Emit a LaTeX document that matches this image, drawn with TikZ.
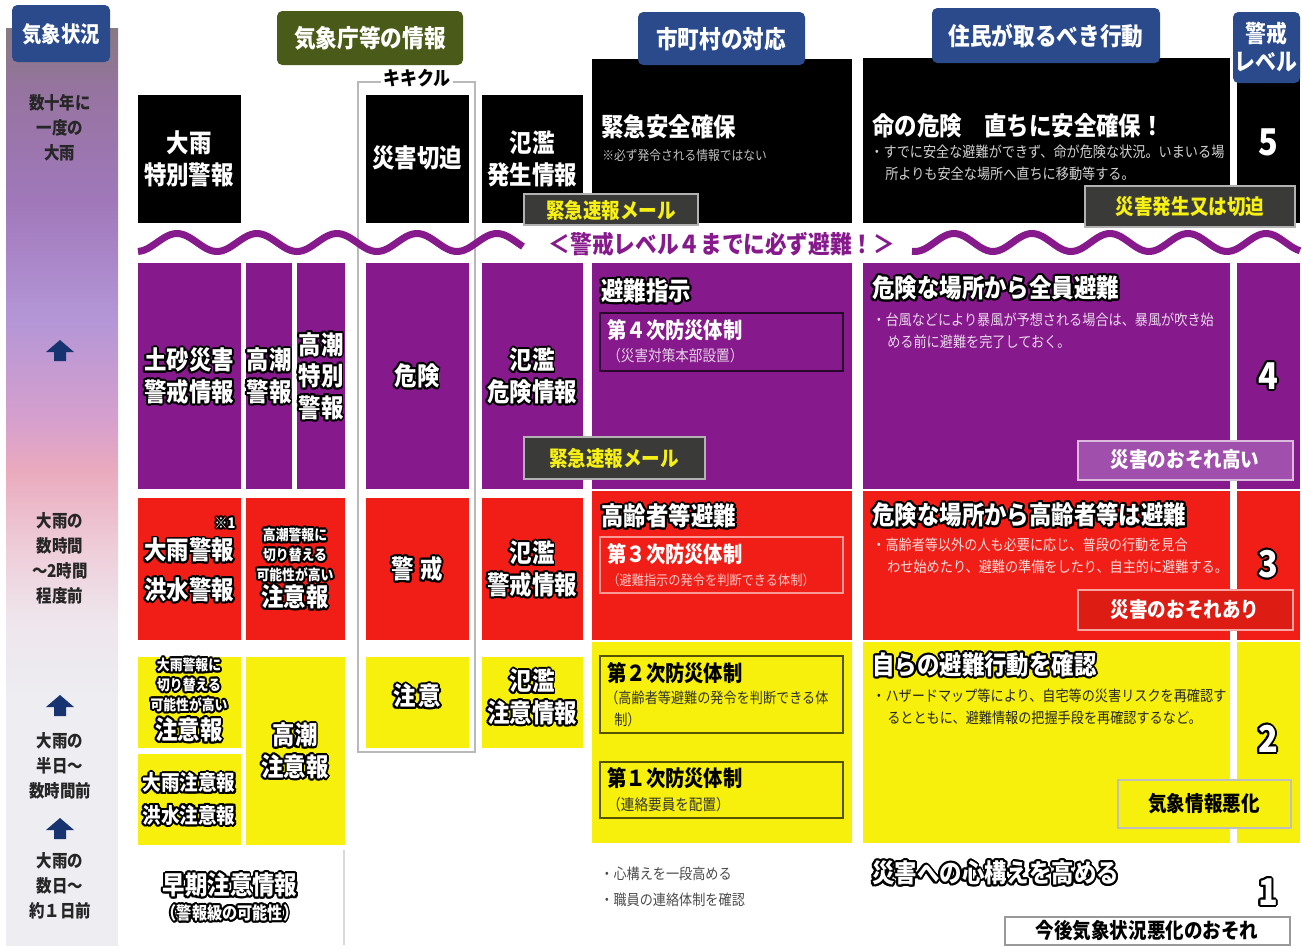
\documentclass[tikz,border=0pt]{standalone}
\usepackage{fontspec}
\setmainfont{Noto Sans CJK JP}[FakeStretch=0.88]
\usepackage{contour}
\contourlength{1.1pt}
\contournumber{16}
\definecolor{hdblue}{RGB}{42,74,140}
\definecolor{hdolive}{RGB}{74,90,24}
\definecolor{lvpurple}{RGB}{134,26,140}
\definecolor{lvpurplelt}{RGB}{160,80,172}
\definecolor{lvred}{RGB}{240,30,22}
\definecolor{lvyellow}{RGB}{246,240,12}
\definecolor{mailgray}{RGB}{58,58,56}
\definecolor{mailyellow}{RGB}{246,240,20}
\definecolor{navyarrow}{RGB}{24,52,112}
\definecolor{framegray}{RGB}{185,185,185}
\definecolor{ctop}{RGB}{135,122,130}
\definecolor{ca}{RGB}{150,116,160}
\definecolor{cb}{RGB}{160,120,186}
\definecolor{cc}{RGB}{180,150,214}
\definecolor{cd}{RGB}{214,160,205}
\definecolor{ce}{RGB}{234,170,190}
\definecolor{cf}{RGB}{238,202,214}
\definecolor{cg}{RGB}{238,230,236}
\definecolor{cbot}{RGB}{237,237,242}
\pgfdeclareverticalshading{climate}{100bp}{color(0bp)=(cbot); color(25bp)=(cbot); color(38.4bp)=(cbot);
  color(42.7bp)=(cg); color(47.1bp)=(cf); color(50.9bp)=(ce); color(53.6bp)=(cd); color(59.1bp)=(cc);
  color(65.6bp)=(cb); color(71.6bp)=(ca); color(75bp)=(ctop); color(100bp)=(ctop)}
\newcommand{\wk}[1]{\contour{black}{#1}}

\begin{document}
\begin{tikzpicture}[x=0.02cm, y=-0.02cm,
    hdtext/.style={text=white, font=\bfseries\fontsize{14}{17}\selectfont, align=center, inner sep=0pt},
    lefttxt/.style={text=black!85, font=\bfseries\fontsize{10}{14.2}\selectfont, align=center, inner sep=0pt},
    lbl/.style={text=white, font=\bfseries\fontsize{14.5}{18}\selectfont, align=center, inner sep=0pt},
    small/.style={text=white, font=\bfseries\fontsize{8.3}{11.3}\selectfont, align=center, inner sep=0pt},
    mid/.style={text=white, font=\bfseries\fontsize{12}{18.5}\selectfont, align=center, inner sep=0pt},
    sub/.style={text=white, font=\bfseries\fontsize{12.5}{14}\selectfont, inner sep=0pt, anchor=west},
    note/.style={font=\fontsize{8.8}{10.5}\selectfont, inner sep=0pt, anchor=west},
    bullet/.style={font=\fontsize{8.5}{12.5}\selectfont, align=left, inner sep=0pt},
    lvnum/.style={text=white, font=\bfseries\fontsize{21}{21}\selectfont, inner sep=0pt},
    mailbox/.style={fill=mailgray, draw=gray!60, line width=0.6pt},
    mailtxt/.style={text=mailyellow, font=\bfseries\fontsize{12}{14}\selectfont, inner sep=0pt},
    risktxt/.style={text=white, font=\bfseries\fontsize{12}{14}\selectfont, inner sep=0pt},
    wave/.style={lvpurple, line width=4pt, samples=120}]
  \useasboundingbox (0,0) rectangle (1302,947);

  % left column
  \shade[shading=climate] (6,28) rectangle (118,945);
  \fill[hdblue, rounded corners=3pt] (12,5) rectangle (110,62);
  \node[hdtext, font=\bfseries\fontsize{12.5}{15}\selectfont] (h-kisho) at (61,34) {気象状況};
  \node[lefttxt] (c-decade) at (60,128) {数十年に\\一度の\\大雨};
  \node[lefttxt] (c-hours) at (60,558) {大雨の\\数時間\\～2時間\\程度前};
  \node[lefttxt] (c-half) at (60,766) {大雨の\\半日～\\数時間前};
  \node[lefttxt] (c-days) at (60,886) {大雨の\\数日～\\約１日前};
  \fill[navyarrow] (46,352) -- (60,340) -- (74,352) -- (66,352) -- (66,361) -- (54,361) -- (54,352) -- cycle;
  \fill[navyarrow] (46,707) -- (60,695) -- (74,707) -- (66,707) -- (66,716) -- (54,716) -- (54,707) -- cycle;
  \fill[navyarrow] (46,830) -- (60,818) -- (74,830) -- (66,830) -- (66,839) -- (54,839) -- (54,830) -- cycle;

  % headers
  \fill[hdolive, rounded corners=3pt] (277,11) rectangle (463,65);
  \node[hdtext] (h-jma) at (370,38) {気象庁等の情報};
  \fill[black] (592,59) rectangle (852,223);
  \fill[black] (863,58) rectangle (1230,223);
  \fill[black] (1237,70) rectangle (1300,223);
  \fill[hdblue, rounded corners=3pt] (638,12) rectangle (805,65);
  \node[hdtext] (h-city) at (721,39) {市町村の対応};
  \fill[hdblue, rounded corners=3pt] (932,8) rectangle (1160,63);
  \node[hdtext] (h-resident) at (1046,36) {住民が取るべき行動};
  \fill[hdblue, rounded corners=3pt] (1233,12) rectangle (1300,83);
  \node[hdtext, font=\bfseries\fontsize{13.5}{16}\selectfont] (h-level) at (1266,47) {警戒\\レベル};

  % kikikuru frame
  \draw[framegray, line width=0.6pt] (358,82) rectangle (475,752);
  \node[fill=white, inner sep=1pt, font=\bfseries\fontsize{11}{12}\selectfont] (h-kikikuru) at (417,78) {キキクル};

  % level 5
  \fill[black] (138,95) rectangle (241,223);
  \fill[black] (366,95) rectangle (469,223);
  \fill[black] (482,95) rectangle (583,223);
  \node[lbl] (t-tokubetsu) at (189,159) {大雨\\特別警報};
  \node[lbl] (t-kiki5) at (417,158) {災害切迫};
  \node[lbl] (t-hanran5) at (532,159) {氾濫\\発生情報};
  \node[lbl, anchor=west] (t-kinkyu) at (601,127) {緊急安全確保};
  \node[note, text=black!25, font=\fontsize{7.6}{9}\selectfont] (t-kinkyu-n) at (602,155) {※必ず発令される情報ではない};
  \node[lbl, anchor=west] (t-inochi) at (872,126) {命の危険　直ちに安全確保！};
  \node[bullet, anchor=north west, text=black!18] (t-inochi-b) at (870,145) {・すでに安全な避難ができず、命が危険な状況。いまいる場\\\hspace*{1em}所よりも安全な場所へ直ちに移動等する。};
  \node[lvnum] (n5) at (1268,142) {5};
  \draw[mailbox] (524,194) rectangle (698,225);
  \node[mailtxt] (t-mail5) at (611,210) {緊急速報メール};
  \draw[mailbox] (1085,186) rectangle (1295,227);
  \node[mailtxt] (t-hassei) at (1190,207) {災害発生又は切迫};

  % wave
  \draw[wave, domain=138:523] plot (\x, {242.5+9*cos(4.5*(\x-137))});
  \draw[wave, domain=912:1300] plot (\x, {242.5+9*cos(4.615*(\x-915))});
  \node[text=lvpurple, font=\bfseries\fontsize{14}{16}\selectfont, inner sep=0pt] (t-wave) at (722,244) {＜警戒レベル４までに必ず避難！＞};

  % level 4
  \fill[lvpurple] (138,263) rectangle (241,489);
  \fill[lvpurple] (246,263) rectangle (292,489);
  \fill[lvpurple] (297,263) rectangle (345,489);
  \fill[lvpurple] (366,263) rectangle (469,489);
  \fill[lvpurple] (482,263) rectangle (583,489);
  \fill[lvpurple] (592,263) rectangle (852,489);
  \fill[lvpurple] (863,263) rectangle (1230,489);
  \fill[lvpurple] (1237,263) rectangle (1300,489);
  \node[lbl] (t-dosha) at (189,377) {\wk{土砂災害}\\\wk{警戒情報}};
  \node[lbl] (t-takashio4) at (269,377) {\wk{高潮}\\\wk{警報}};
  \node[lbl] (t-takashio-sp) at (321,377) {\wk{高潮}\\\wk{特別}\\\wk{警報}};
  \node[lbl] (t-kiki4) at (417,377) {\wk{危険}};
  \node[lbl] (t-hanran4) at (532,377) {\wk{氾濫}\\\wk{危険情報}};
  \node[lbl, anchor=west] (t-shiji) at (601,292) {\wk{避難指示}};
  \draw[black!70!lvpurple, line width=0.8pt] (600,313) rectangle (843,371);
  \node[sub] (t-dai4) at (607,330) {第４次防災体制};
  \node[note, text=lvpurple!20] (t-dai4-n) at (607,356) {（災害対策本部設置）};
  \draw[mailbox] (524,437) rectangle (705,479);
  \node[mailtxt] (t-mail4) at (614,458) {緊急速報メール};
  \node[lbl, anchor=west] (t-zenin) at (872,289) {\wk{危険な場所から全員避難}};
  \node[bullet, anchor=north west, text=lvpurple!18] (t-zenin-b) at (872,313) {・台風などにより暴風が予想される場合は、暴風が吹き始\\\hspace*{1em}める前に避難を完了しておく。};
  \node[lvnum] (n4) at (1268,377) {\wk{4}};
  \draw[fill=lvpurplelt, draw=lvpurple!30, line width=0.8pt] (1078,441) rectangle (1293,480);
  \node[risktxt] (t-risk4) at (1185,460) {災害のおそれ高い};

  % level 3
  \fill[lvred] (138,498) rectangle (241,640);
  \fill[lvred] (246,498) rectangle (345,640);
  \fill[lvred] (366,498) rectangle (469,640);
  \fill[lvred] (482,498) rectangle (583,640);
  \fill[lvred] (592,491) rectangle (852,640);
  \fill[lvred] (863,491) rectangle (1230,640);
  \fill[lvred] (1237,491) rectangle (1300,640);
  \node[lbl] (t-ooame3) at (189,571) {\wk{大雨警報}\\[4.5pt]\wk{洪水警報}};
  \node[small] (t-kome) at (225,524) {\wk{※1}};
  \node[small] (t-kirikae3) at (295,556) {\wk{高潮警報に}\\\wk{切り替える}\\\wk{可能性が高い}};
  \node[lbl] (t-chui3) at (295,598) {\wk{注意報}};
  \node[lbl] (t-kiki3) at (417,570) {\wk{警\hspace{0.25em}戒}};
  \node[lbl] (t-hanran3) at (532,570) {\wk{氾濫}\\\wk{警戒情報}};
  \node[lbl, anchor=west] (t-koreisha) at (601,517) {\wk{高齢者等避難}};
  \draw[lvred!45!white, line width=0.8pt] (600,537) rectangle (843,593);
  \node[sub] (t-dai3) at (607,554) {第３次防災体制};
  \node[note, text=lvred!25!white, font=\fontsize{7.9}{9}\selectfont] (t-dai3-n) at (607,580) {（避難指示の発令を判断できる体制）};
  \node[lbl, anchor=west] (t-koreisha-r) at (872,516) {\wk{危険な場所から高齢者等は避難}};
  \node[bullet, anchor=north west, text=lvred!15!white] (t-koreisha-b) at (872,538) {・高齢者等以外の人も必要に応じ、普段の行動を見合\\\hspace*{1em}わせ始めたり、避難の準備をしたり、自主的に避難する。};
  \node[lvnum] (n3) at (1268,565) {\wk{3}};
  \draw[fill=lvred!92!black, draw=lvred!40!white, line width=0.8pt] (1078,590) rectangle (1293,630);
  \node[risktxt] (t-risk3) at (1185,610) {災害のおそれあり};

  % level 2
  \fill[lvyellow] (138,657) rectangle (241,748);
  \fill[lvyellow] (138,754) rectangle (241,845);
  \fill[lvyellow] (246,657) rectangle (345,845);
  \fill[lvyellow] (366,657) rectangle (469,748);
  \fill[lvyellow] (482,657) rectangle (583,748);
  \fill[lvyellow] (592,642) rectangle (852,843);
  \fill[lvyellow] (863,642) rectangle (1230,843);
  \fill[lvyellow] (1237,642) rectangle (1300,843);
  \node[small] (t-kirikae2) at (189,686) {\wk{大雨警報に}\\\wk{切り替える}\\\wk{可能性が高い}};
  \node[lbl] (t-chui2) at (189,731) {\wk{注意報}};
  \node[mid] (t-ooame2) at (189,800) {\wk{大雨注意報}\\\wk{洪水注意報}};
  \node[lbl] (t-takashio2) at (295,752) {\wk{高潮}\\\wk{注意報}};
  \node[lbl] (t-kiki2) at (417,697) {\wk{注\hspace{0.1em}意}};
  \node[lbl] (t-hanran2) at (532,698) {\wk{氾濫}\\\wk{注意情報}};
  \draw[black!65!lvyellow, line width=0.8pt] (600,656) rectangle (843,733);
  \node[sub, text=black] (t-dai2) at (607,673) {第２次防災体制};
  \node[bullet, anchor=north west, text=black!80] (t-dai2-n) at (605,690) {（高齢者等避難の発令を判断できる体\\\hspace*{0.6em}制）};
  \draw[black!65!lvyellow, line width=0.8pt] (600,762) rectangle (843,818);
  \node[sub, text=black] (t-dai1) at (607,778) {第１次防災体制};
  \node[note, text=black!80] (t-dai1-n) at (607,805) {（連絡要員を配置）};
  \node[lbl, anchor=west] (t-jira) at (872,666) {\wk{自らの避難行動を確認}};
  \node[bullet, anchor=north west, text=black!85] (t-jira-b) at (872,689) {・ハザードマップ等により、自宅等の災害リスクを再確認す\\\hspace*{1em}るとともに、避難情報の把握手段を再確認するなど。};
  \node[lvnum] (n2) at (1268,740) {\wk{2}};
  \draw[fill=lvyellow, draw=black!25, line width=0.8pt] (1118,780) rectangle (1291,828);
  \node[risktxt, text=black] (t-risk2) at (1204,804) {気象情報悪化};

  % level 1
  \draw[black!15, line width=0.6pt] (344,850) -- (344,945);
  \node[lbl] (t-soki) at (230,886) {\wk{早期注意情報}};
  \node[mid, font=\bfseries\fontsize{9.8}{12}\selectfont] (t-soki-n) at (230,914) {\wk{（警報級の可能性）}};
  \node[bullet, anchor=west, text=black!70] (t-kokoro) at (600,874) {・心構えを一段高める};
  \node[bullet, anchor=west, text=black!70] (t-shokuin) at (600,900) {・職員の連絡体制を確認};
  \node[lbl, anchor=west] (t-kokoro-r) at (872,874) {\wk{災害への心構えを高める}};
  \node[lvnum] (n1) at (1268,893) {\wk{1}};
  \draw[fill=white, draw=black!40, line width=0.8pt] (1005,917) rectangle (1290,945);
  \node[risktxt, text=black] (t-risk1) at (1147,931) {今後気象状況悪化のおそれ};
\end{tikzpicture}
\end{document}
